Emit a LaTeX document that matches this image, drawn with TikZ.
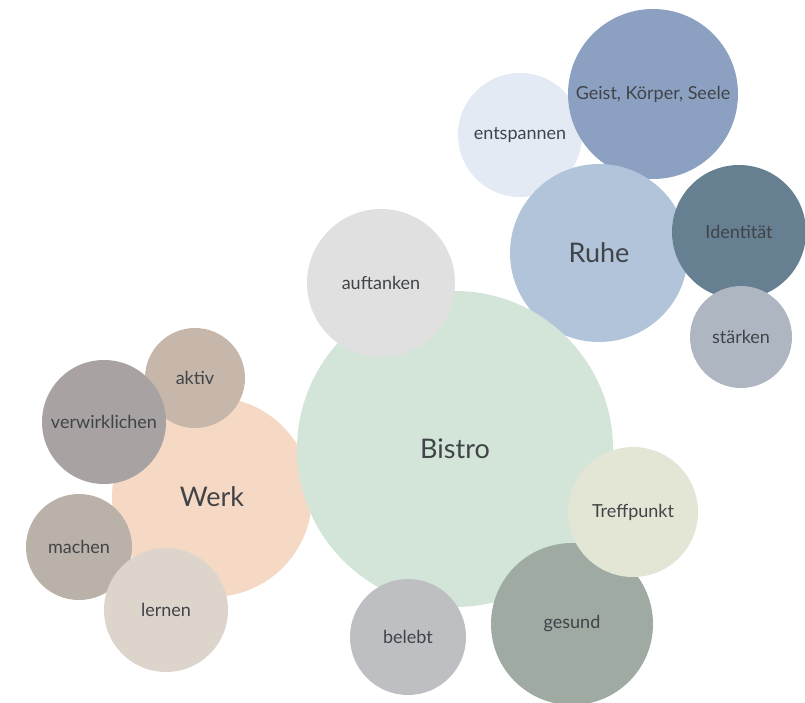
\documentclass[tikz,border=0pt]{standalone}
\usepackage{fontspec}
\setmainfont{Lato}
\usepackage{tikz}
\definecolor{txt}{RGB}{64,68,72}
\definecolor{bistroc}{RGB}{211,229,217}
\definecolor{werkc}{RGB}{246,217,197}
\definecolor{ruhec}{RGB}{178,196,217}
\definecolor{geistc}{RGB}{140,161,194}
\definecolor{entspc}{RGB}{227,234,244}
\definecolor{identc}{RGB}{102,127,145}
\definecolor{staerkc}{RGB}{174,183,193}
\definecolor{auftc}{RGB}{224,224,224}
\definecolor{aktivc}{RGB}{198,183,170}
\definecolor{verwc}{RGB}{168,163,162}
\definecolor{machc}{RGB}{186,177,168}
\definecolor{lernc}{RGB}{221,213,203}
\definecolor{belebc}{RGB}{190,191,194}
\definecolor{gesundc}{RGB}{158,170,162}
\definecolor{treffc}{RGB}{227,229,213}
\tikzset{bubble/.style={circle,inner sep=0pt,text=txt,font=\fontsize{18}{20}\selectfont},
bigbubble/.style={bubble,font=\fontsize{27}{30}\selectfont}}

\begin{document}
\begin{tikzpicture}[x=1pt,y=-1pt]
\useasboundingbox (0,0) rectangle (805,702);
\clip (0,0) rectangle (805,702);
% Werk
\node[bigbubble,fill=werkc,minimum size=200pt] (werk) at (212,497) {Werk};
\node[bubble,fill=aktivc,minimum size=100pt] (aktiv) at (195,378) {aktiv};
\node[bubble,fill=verwc,minimum size=124pt] (verw) at (104,422) {verwirklichen};
\node[bubble,fill=machc,minimum size=106pt] (machen) at (79,547) {machen};
\node[bubble,fill=lernc,minimum size=124pt] (lernen) at (166,610) {lernen};
% Ruhe
\node[bubble,fill=entspc,minimum size=124pt] (entsp) at (520,135) {entspannen};
\node[bubble,fill=geistc,minimum size=170pt] (geist) at (653,94) {Geist, Körper, Seele};
\node[bigbubble,fill=ruhec,minimum size=178pt] (ruhe) at (599,253) {Ruhe};
\node[bubble,fill=identc,minimum size=134pt] (ident) at (739,232) {Identität};
\node[bubble,fill=staerkc,minimum size=102pt] (staerk) at (741,337) {stärken};
% Bistro
\node[bigbubble,fill=bistroc,minimum size=316pt] (bistro) at (455,449) {Bistro};
\node[bubble,fill=auftc,minimum size=148pt] (auft) at (381,283) {auftanken};
\node[bubble,fill=belebc,minimum size=116pt] (belebt) at (408,637) {belebt};
\node[bubble,fill=gesundc,minimum size=162pt] (gesund) at (572,624) {gesund};
\node[bubble,fill=treffc,minimum size=130pt] (treff) at (633,512) {Treffpunkt};
\end{tikzpicture}
\end{document}
